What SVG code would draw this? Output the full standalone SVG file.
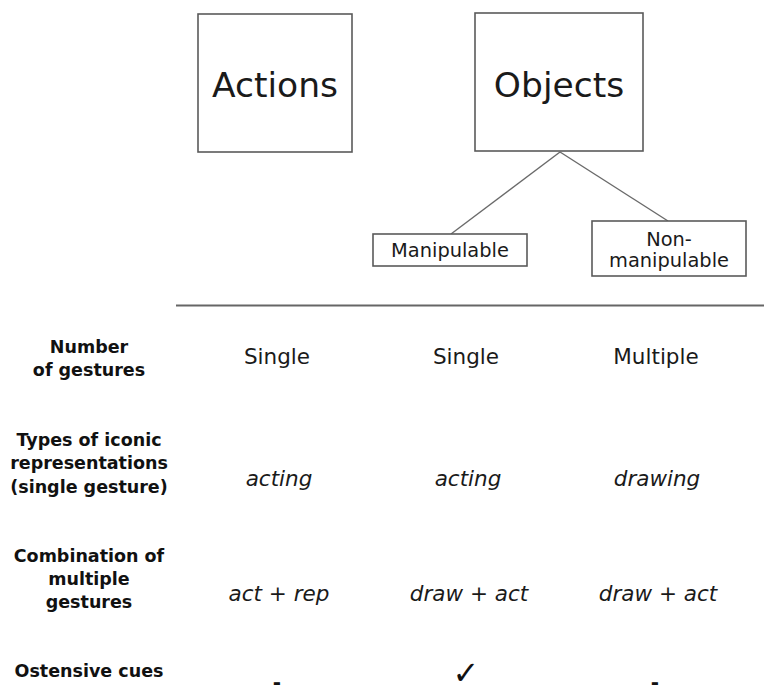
<svg xmlns="http://www.w3.org/2000/svg" width="764" height="685" viewBox="0 0 764 685">
<style>
.box{fill:#fff;stroke:#5a5a5a;stroke-width:1.6}
.conn{stroke:#6a6a6a;stroke-width:1.4;fill:none}
.big{font-family:"DejaVu Sans",sans-serif;font-size:34.5px;fill:#1a1a1a;text-anchor:middle}
.small{font-family:"DejaVu Sans",sans-serif;font-size:19.4px;fill:#1a1a1a;text-anchor:middle}
.lab{font-family:"DejaVu Sans",Verdana,sans-serif;font-weight:bold;font-size:17.5px;fill:#111;text-anchor:middle}
.val{font-family:"DejaVu Sans",sans-serif;font-size:21.5px;fill:#1a1a1a;text-anchor:middle}
.ital{font-family:"DejaVu Sans",sans-serif;font-style:italic;font-size:21.5px;fill:#1a1a1a;text-anchor:middle}
.mark{font-family:"DejaVu Sans",sans-serif;font-weight:bold;fill:#111;text-anchor:middle}
</style>
<rect width="764" height="685" fill="#fff"/>
<g id="connectors">
<line class="conn" x1="560" y1="152" x2="451" y2="234"/>
<line class="conn" x1="560" y1="152" x2="668" y2="221"/>
<line x1="176" y1="305.5" x2="764" y2="305.5" stroke="#666" stroke-width="2"/>
</g>
<g id="actions">
<rect class="box" x="198" y="14" width="154" height="138"/>
<text class="big" x="275" y="97">Actions</text>
</g>
<g id="objects">
<rect class="box" x="475" y="13" width="168" height="138"/>
<text class="big" x="559" y="97">Objects</text>
</g>
<g id="manipulable">
<rect class="box" x="373" y="234" width="154" height="32"/>
<text class="small" x="450" y="257">Manipulable</text>
</g>
<g id="non-manipulable">
<rect class="box" x="592" y="221" width="154" height="55"/>
<text class="small" x="669" y="246">Non-</text>
<text class="small" x="669" y="267">manipulable</text>
</g>
<g id="row-labels">
<text class="lab" x="89" y="353">Number</text>
<text class="lab" x="89" y="376">of gestures</text>
<text class="lab" x="89" y="446">Types of iconic</text>
<text class="lab" x="89" y="469">representations</text>
<text class="lab" x="89" y="493">(single gesture)</text>
<text class="lab" x="89" y="562">Combination of</text>
<text class="lab" x="89" y="585">multiple</text>
<text class="lab" x="89" y="608">gestures</text>
<text class="lab" x="89" y="677">Ostensive cues</text>
</g>
<g id="values">
<text class="val" x="277" y="364">Single</text>
<text class="val" x="466" y="364">Single</text>
<text class="val" x="656" y="364">Multiple</text>
<text class="ital" x="279" y="486">acting</text>
<text class="ital" x="468" y="486">acting</text>
<text class="ital" x="657" y="486">drawing</text>
<text class="ital" x="279" y="601">act + rep</text>
<text class="ital" x="469" y="601">draw + act</text>
<text class="ital" x="658" y="601">draw + act</text>
<text class="mark" x="277" y="689" font-size="20px">-</text>
<text class="mark" x="466" y="684" font-size="32px">✓</text>
<text class="mark" x="655" y="689" font-size="20px">-</text>
</g>
</svg>
